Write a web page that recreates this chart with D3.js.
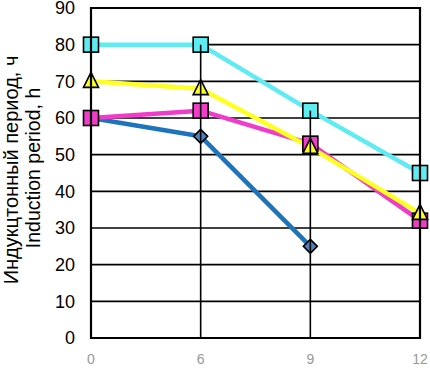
<!DOCTYPE html>
<html><head><meta charset="utf-8">
<script src="https://cdn.jsdelivr.net/npm/d3@7"></script>
<style>body{margin:0;background:#fff}svg{display:block;font-family:"Liberation Sans",Arial,sans-serif}</style>
</head><body><svg id="c" width="430" height="368"></svg>
<script>
const categories = ["0","6","9","12"];
const yTicks = [0,10,20,30,40,50,60,70,80,90];
const blueVals = [60,55,25,null];
const magentaVals = [60,62,53,32];
const yellowVals = [70,68,52,34];
const cyanVals = [80,80,62,45];
const yTitle1 = "Индукцтонный период, ч";
const yTitle2 = "Induction period, h";

const series = [
  {vals: blueVals, line:"#1C74BC", fill:"#4F82BC", shape:"diamond"},
  {vals: magentaVals, line:"#F03CC8", fill:"#F03CC8", shape:"square"},
  {vals: yellowVals, line:"#FFFF22", fill:"#FFFF22", shape:"triangle"},
  {vals: cyanVals, line:"#5EEBF2", fill:"#5EEBF2", shape:"square"}
];

const svg = d3.select("#c");
const L=91, R=420, T=8, B=338;
const x = d3.scalePoint().domain(categories).range([L,R]).padding(0);
const y = d3.scaleLinear().domain([0,90]).range([B,T]);

svg.append("g").selectAll("line").data(yTicks.filter(d=>d>0 && d<90)).join("line")
  .attr("x1",L).attr("x2",R).attr("y1",d=>y(d)).attr("y2",d=>y(d))
  .attr("stroke","#000").attr("stroke-width",1.6);

const lineGen = d3.line().defined(d=>d.v!=null).x(d=>x(d.c)).y(d=>y(d.v));
series.forEach(s=>{
  const pts = categories.map((c,i)=>({c, v:s.vals[i]}));
  svg.append("path").datum(pts).attr("d",lineGen).attr("fill","none")
    .attr("stroke",s.line).attr("stroke-width",4.5).attr("stroke-linejoin","round");
});

series.forEach(s=>{
  categories.forEach((c,i)=>{
    const v=s.vals[i]; if(v==null) return;
    const cx=x(c), cy=y(v);
    let p;
    if(s.shape==="square"){
      p = svg.append("rect").attr("x",cx-7.5).attr("y",cy-7.5).attr("width",15).attr("height",15);
    } else if(s.shape==="diamond"){
      const r=7;
      p = svg.append("path").attr("d",`M${cx},${cy-r}L${cx+r},${cy}L${cx},${cy+r}L${cx-r},${cy}Z`);
    } else {
      const r=9;
      p = svg.append("path").attr("d",`M${cx},${cy-r}L${cx+7.5},${cy+6}L${cx-7.5},${cy+6}Z`);
    }
    p.attr("fill",s.fill).attr("stroke","#000").attr("stroke-width",1.6);
  });
});

categories.forEach((c,i)=>{
  const mx = d3.max(series, s=>s.vals[i]);
  svg.append("line").attr("x1",x(c)).attr("x2",x(c)).attr("y1",y(mx)).attr("y2",B)
    .attr("stroke","#000").attr("stroke-width",1.6);
});

svg.append("path").attr("d",`M${L},${T}H${R}V${B}H${L}Z`).attr("fill","none")
  .attr("stroke","#000").attr("stroke-width",2.2);

svg.append("g").selectAll("text").data(yTicks).join("text")
  .attr("x",75).attr("y",d=>y(d)).attr("dy","0.35em").attr("text-anchor","end")
  .attr("font-size",18).attr("fill","#000").text(d=>d);

svg.append("g").selectAll("text").data(categories).join("text")
  .attr("x",d=>x(d)).attr("y",359).attr("dy","0.35em").attr("text-anchor","middle")
  .attr("font-size",14).attr("fill","#999").text(d=>d);

svg.append("text").attr("transform","translate(18,170) rotate(-90)").attr("text-anchor","middle")
  .attr("font-size",20).attr("fill","#000").text(yTitle1);
svg.append("text").attr("transform","translate(40,168) rotate(-90)").attr("text-anchor","middle")
  .attr("font-size",19.5).attr("fill","#000").text(yTitle2);
</script></body></html>
